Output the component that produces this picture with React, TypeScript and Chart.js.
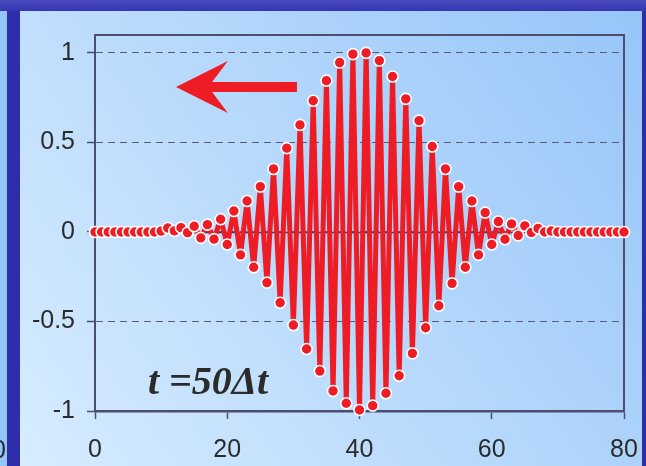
import { useEffect, useRef } from 'react';
import { Chart, registerables } from 'chart.js';

Chart.register(...registerables);

// Sample positions along the grid (cell index)
const xPositions: number[] = Array.from({ length: 81 }, (_, i) => i);

// Field amplitude at each cell
const amplitude: number[] = [
  0, 0, 0, 0, 0, 0, 0, 0, 0, 0,
  0.005, 0.022, 0.006, 0.024, -0.004, 0.032, -0.033, 0.041, -0.04, 0.071,
  -0.07, 0.117, -0.128, 0.173, -0.197, 0.253, -0.283, 0.352, -0.395, 0.468,
  -0.52, 0.598, -0.654, 0.733, -0.777, 0.845, -0.888, 0.946, -0.957, 0.993,
  -0.994, 1.0, -0.97, 0.957, -0.901, 0.868, -0.803, 0.743, -0.678, 0.622,
  -0.535, 0.477, -0.412, 0.352, -0.287, 0.253, -0.197, 0.173, -0.128, 0.108,
  -0.07, 0.058, -0.041, 0.045, -0.02, 0.034, -0.003, 0.02, 0, 0.005,
  0, 0, 0, 0, 0, 0, 0, 0, 0, 0,
  0,
];

const xTickValues: number[] = [0, 20, 40, 60, 80];
const yTickValues: number[] = [-1, -0.5, 0, 0.5, 1];
const yTickLabels: string[] = ['-1', '-0.5', '0', '0.5', '1'];

const caption = 't =50Δt';
const captionAt = { x: 8.0, y: -0.905 };

// Propagation-direction arrow outline, in data units
const arrowOutline: [number, number][] = [
  [12.25, 0.81],
  [20.1, 0.955],
  [17.7, 0.838],
  [30.55, 0.838],
  [30.55, 0.782],
  [17.7, 0.782],
  [20.1, 0.665],
];

const RED = '#ee1c25';
const INK = '#2b2b2b';
const FRAME = '#4d4d70';

const backdrop = {
  id: 'backdrop',
  beforeDraw(chart: any) {
    const { ctx, width: W, height: H } = chart;
    ctx.save();
    ctx.fillStyle = '#2e2eab';
    ctx.fillRect(0, 0, W, H);
    const top = ctx.createLinearGradient(0, 0, 0, 12);
    top.addColorStop(0, '#4a4abf');
    top.addColorStop(1, '#3434b0');
    ctx.fillStyle = top;
    ctx.fillRect(0, 0, W, 11);
    ctx.fillStyle = '#93c6fb';
    ctx.fillRect(0, 11, 7, H - 11);
    const panel = ctx.createLinearGradient(20, H, 642, 11);
    panel.addColorStop(0, '#d7ecff');
    panel.addColorStop(1, '#96c5f8');
    ctx.fillStyle = panel;
    ctx.fillRect(20, 11, 622, H - 11);
    ctx.restore();
  },
  beforeDatasetsDraw(chart: any) {
    const { ctx, chartArea: a, scales } = chart;
    const y = scales.y;
    ctx.save();
    // solid zero line
    const y0 = Math.round(y.getPixelForValue(0)) + 0.5;
    ctx.strokeStyle = '#3c3c58';
    ctx.lineWidth = 1.5;
    ctx.beginPath();
    ctx.moveTo(a.left, y0);
    ctx.lineTo(a.right, y0);
    ctx.stroke();
    // plot frame
    ctx.strokeStyle = FRAME;
    ctx.lineWidth = 2;
    ctx.strokeRect(a.left, a.top, a.right - a.left, a.bottom - a.top);
    ctx.restore();
  },
  afterDraw(chart: any) {
    const { ctx, scales, height: H } = chart;
    const x = scales.x;
    const y = scales.y;
    ctx.save();
    // arrow
    ctx.fillStyle = RED;
    ctx.beginPath();
    arrowOutline.forEach(([vx, vy], i) => {
      const px = x.getPixelForValue(vx);
      const py = y.getPixelForValue(vy);
      if (i === 0) ctx.moveTo(px, py);
      else ctx.lineTo(px, py);
    });
    ctx.closePath();
    ctx.fill();
    // caption
    ctx.fillStyle = INK;
    ctx.font = 'italic bold 40px "Liberation Serif", "Times New Roman", serif';
    ctx.textAlign = 'left';
    ctx.textBaseline = 'alphabetic';
    ctx.fillText(caption, x.getPixelForValue(captionAt.x), y.getPixelForValue(captionAt.y));
    // neighbouring panel's label peeking in at the left edge
    ctx.beginPath();
    ctx.rect(0, 11, 7, H - 11);
    ctx.clip();
    ctx.font = '25px "Liberation Sans", Arial, sans-serif';
    ctx.textAlign = 'right';
    ctx.textBaseline = 'middle';
    ctx.fillText('0', 6, 451);
    ctx.restore();
  },
};

export default function App() {
  const ref = useRef<HTMLCanvasElement>(null);

  useEffect(() => {
    if (!ref.current) return;
    const chart = new Chart(ref.current, {
      type: 'line',
      data: {
        labels: xPositions,
        datasets: [
          {
            data: xPositions.map((xv, i) => ({ x: xv, y: amplitude[i] })),
            borderColor: RED,
            borderWidth: 5,
            borderJoinStyle: 'round',
            tension: 0,
            pointRadius: 5.5,
            pointBorderWidth: 1.6,
            pointBorderColor: '#ffffff',
            pointBackgroundColor: RED,
            clip: false as any,
          },
        ],
      },
      options: {
        animation: false,
        responsive: false,
        devicePixelRatio: 1,
        layout: { padding: { left: 0, top: 35, right: 22, bottom: 0 } },
        plugins: { legend: { display: false }, tooltip: { enabled: false } },
        scales: {
          x: {
            type: 'linear',
            min: 0,
            max: 80,
            afterBuildTicks: (s: any) => {
              s.ticks = xTickValues.map((v) => ({ value: v }));
            },
            afterFit: (s: any) => {
              s.height = 55;
              s.paddingLeft = 0;
              s.paddingRight = 0;
            },
            grid: {
              drawOnChartArea: false,
              drawTicks: true,
              tickLength: 8,
              tickColor: FRAME,
              tickWidth: 1.5,
            },
            border: { color: FRAME, width: 2.5 },
            ticks: {
              padding: 16,
              color: INK,
              maxRotation: 0,
              font: { family: '"Liberation Sans", Arial, sans-serif', size: 25 },
              callback: (v: any) => String(v),
            },
          },
          y: {
            type: 'linear',
            min: -1,
            max: 1.1,
            afterBuildTicks: (s: any) => {
              s.ticks = yTickValues.map((v) => ({ value: v }));
            },
            afterFit: (s: any) => {
              s.width = 95;
              s.paddingTop = 0;
              s.paddingBottom = 0;
            },
            grid: {
              color: '#5a5c74',
              lineWidth: 1,
              drawTicks: true,
              tickLength: 8,
              tickColor: FRAME,
              tickWidth: 1.5,
            },
            border: { color: FRAME, width: 2, dash: [7, 5] },
            ticks: {
              padding: 12,
              color: INK,
              font: { family: '"Liberation Sans", Arial, sans-serif', size: 25 },
              callback: (v: any) => {
                const i = yTickValues.indexOf(Number(v));
                return i >= 0 ? yTickLabels[i] : '';
              },
            },
          },
        },
      },
      plugins: [backdrop],
    });
    return () => chart.destroy();
  }, []);

  return (
    <div style={{ position: 'fixed', left: 0, top: 0, width: 646, height: 466 }}>
      <canvas ref={ref} width={646} height={466} style={{ display: 'block' }} />
    </div>
  );
}
